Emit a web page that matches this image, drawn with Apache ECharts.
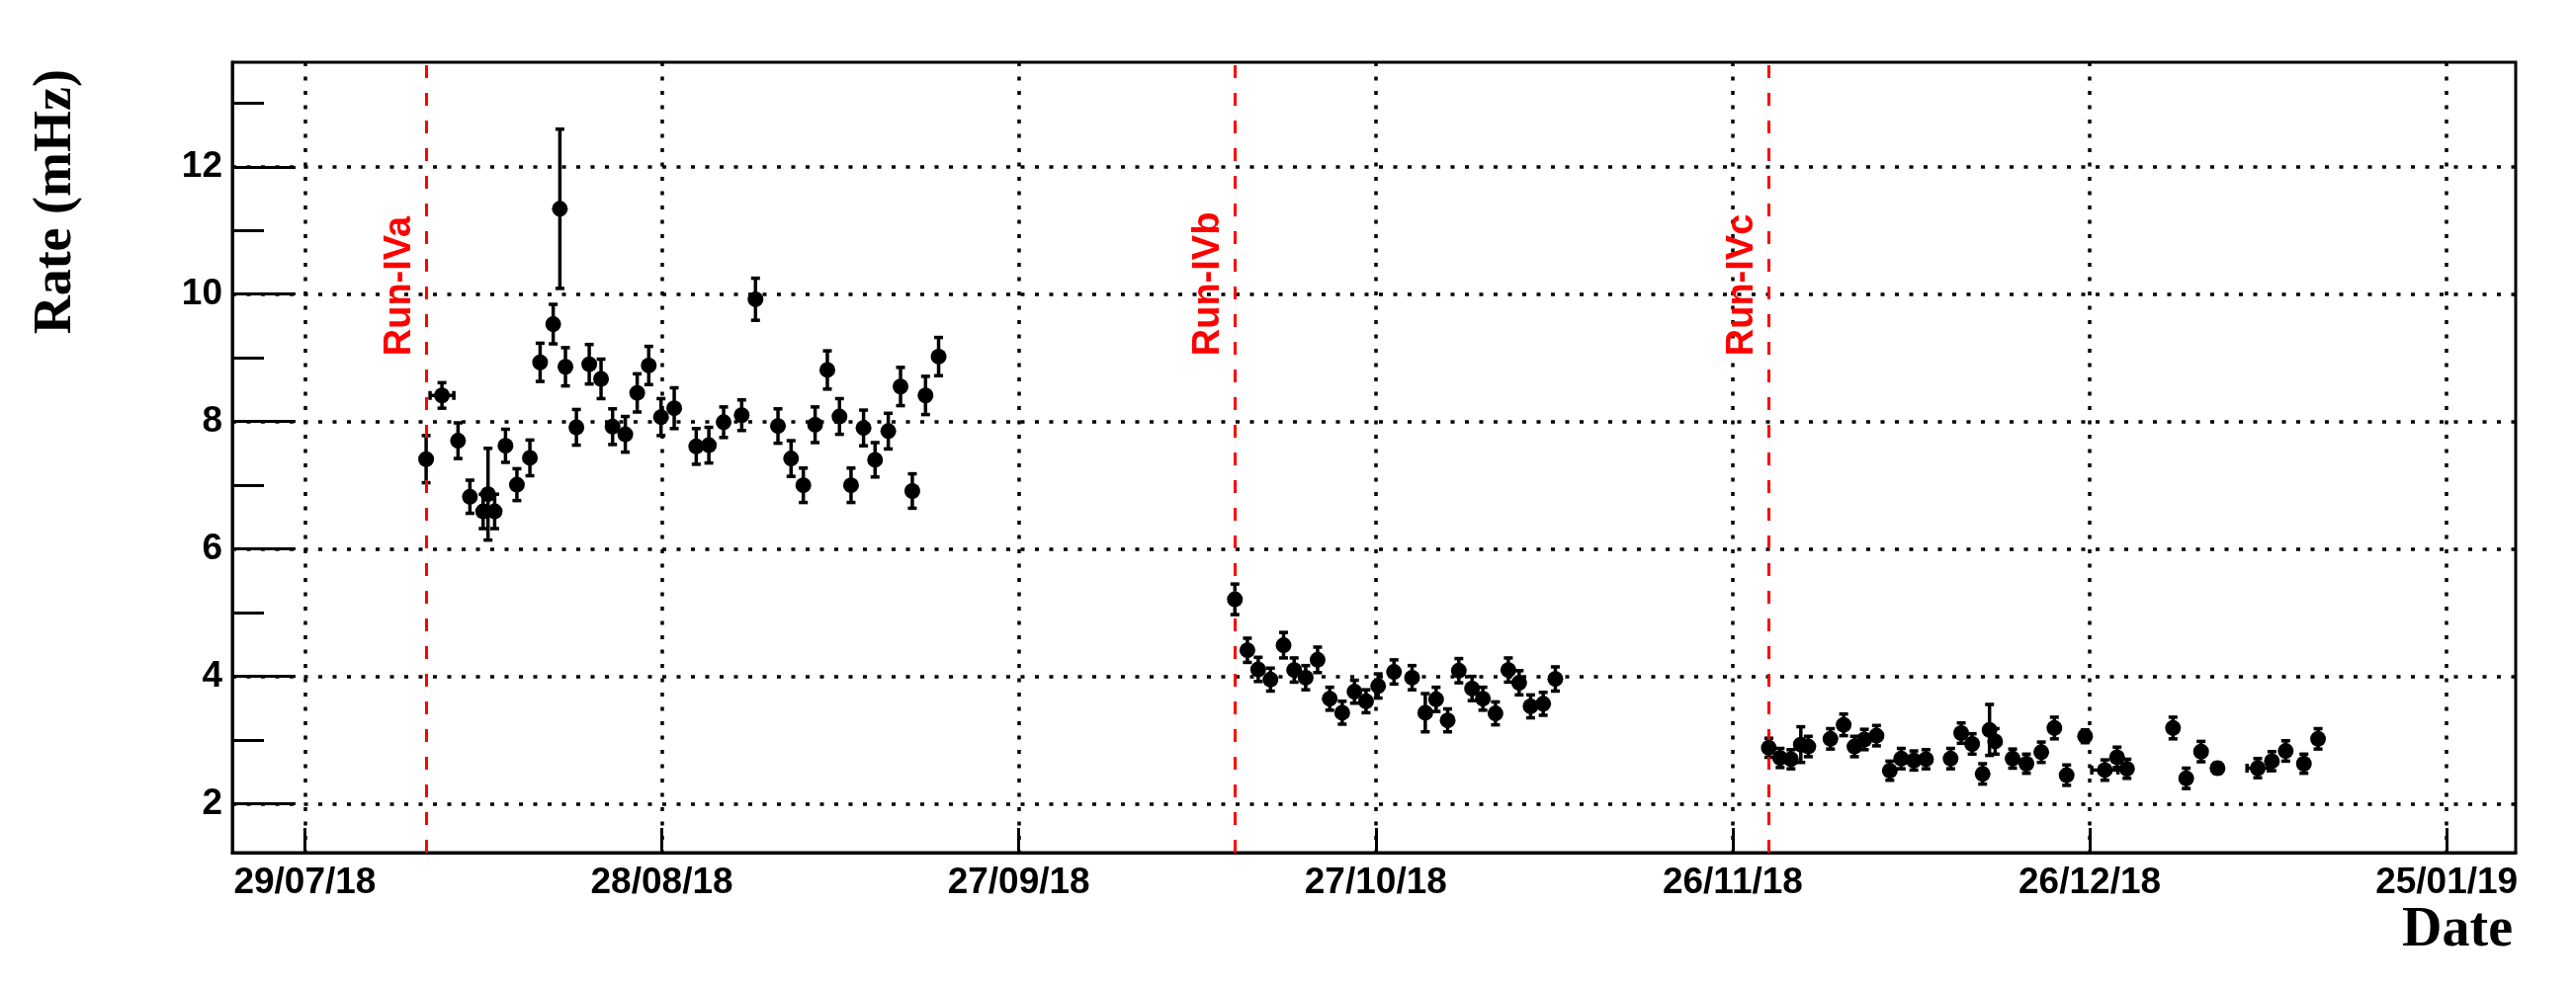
<!DOCTYPE html>
<html>
<head>
<meta charset="utf-8">
<script src="https://cdn.jsdelivr.net/npm/echarts@6.0.0/dist/echarts.min.js"></script>
<style>
  html, body { margin: 0; padding: 0; background: #fff; }
  #chart { width: 2606px; height: 999px; }
</style>
</head>
<body>
<div id="chart"></div>
<script>
// days counted from 29/07/18
var xMin = -6.1, xMax = 185.8;
var yMin = 1.234, yMax = 13.64;
var xTickDays = [0, 30, 60, 90, 120, 150, 180];
var xTickLabels = ['29/07/18', '28/08/18', '27/09/18', '27/10/18', '26/11/18', '26/12/18', '25/01/19'];
var yMajor = [2, 4, 6, 8, 10, 12];
var yMinor = [3, 5, 7, 9, 11, 13];

// run starts
var runDays = [10.19, 78.16, 123.03];
var runNames = ['Run-IVa', 'Run-IVb', 'Run-IVc'];
var runLabelY = 9.03;

// measured rate per period
var days = [
  10.19, 11.52, 12.87, 13.87, 14.98, 15.39, 15.95, 16.86, 17.82, 18.91,
  19.77, 20.87, 21.43, 21.90, 22.82, 23.90, 24.89, 25.86, 26.93, 27.93,
  28.90, 29.93, 31.04, 32.89, 33.95, 35.19, 36.71, 37.87, 39.76, 40.86,
  41.89, 42.88, 43.91, 44.93, 45.90, 46.95, 47.92, 49.03, 50.06, 51.05,
  52.16, 53.26,
  78.16, 79.21, 80.12, 81.15, 82.25, 83.14, 84.11, 85.11, 86.13, 87.18,
  88.21, 89.18, 90.20, 91.53, 93.05, 94.16, 95.07, 96.04, 96.98, 98.09,
  99.00, 100.06, 101.14, 102.05, 103.01, 104.07, 105.09,
  123.03, 123.98, 124.89, 125.72, 126.35, 128.21, 129.32, 130.23, 131.06, 132.08,
  133.20, 134.16, 135.22, 136.24, 138.31, 139.20, 140.12, 141.00, 141.58, 142.05,
  143.52, 144.68, 145.93, 147.03, 148.06, 149.61, 151.27, 152.30, 153.13, 157.00,
  158.11, 159.36, 160.74, 164.12, 165.31, 166.47, 168.00, 169.19
];
var rates = [
  7.41, 8.41, 7.70, 6.82, 6.59, 6.86, 6.59, 7.62, 7.01, 7.43,
  8.93, 9.53, 11.34, 8.86, 7.91, 8.90, 8.67, 7.92, 7.80, 8.45,
  8.88, 8.07, 8.21, 7.61, 7.63, 7.99, 8.10, 9.92, 7.93, 7.42,
  7.00, 7.95, 8.81, 8.08, 7.00, 7.90, 7.40, 7.85, 8.55, 6.91,
  8.41, 9.02,
  5.21, 4.41, 4.11, 3.95, 4.49, 4.10, 3.98, 4.26, 3.65, 3.43,
  3.76, 3.61, 3.85, 4.07, 3.98, 3.43, 3.64, 3.31, 4.09, 3.81,
  3.65, 3.42, 4.10, 3.90, 3.53, 3.57, 3.96,
  2.88, 2.72, 2.70, 2.93, 2.90, 3.02, 3.24, 2.90, 3.01, 3.07,
  2.52, 2.71, 2.68, 2.70, 2.71, 3.11, 2.94, 2.47, 3.16, 2.98,
  2.71, 2.63, 2.81, 3.19, 2.45, 3.06, 2.53, 2.73, 2.55, 3.19,
  2.40, 2.82, 2.56, 2.56, 2.67, 2.83, 2.63, 3.02
];
var rateErr = [
  0.37, 0.20, 0.28, 0.26, 0.27, 0.72, 0.27, 0.26, 0.25, 0.28,
  0.30, 0.31, 1.25, 0.30, 0.28, 0.31, 0.31, 0.28, 0.28, 0.30,
  0.30, 0.29, 0.32, 0.28, 0.28, 0.24, 0.24, 0.33, 0.27, 0.28,
  0.27, 0.28, 0.30, 0.28, 0.27, 0.28, 0.27, 0.28, 0.30, 0.27,
  0.30, 0.30,
  0.24, 0.19, 0.19, 0.18, 0.20, 0.19, 0.19, 0.20, 0.18, 0.18,
  0.18, 0.18, 0.19, 0.19, 0.19, 0.30, 0.19, 0.18, 0.19, 0.19,
  0.18, 0.18, 0.19, 0.19, 0.18, 0.18, 0.19,
  0.15, 0.15, 0.15, 0.28, 0.16, 0.16, 0.17, 0.16, 0.16, 0.16,
  0.15, 0.16, 0.15, 0.15, 0.16, 0.16, 0.16, 0.16, 0.40, 0.20,
  0.15, 0.15, 0.16, 0.17, 0.16, 0.10, 0.16, 0.16, 0.15, 0.17,
  0.16, 0.16, 0.08, 0.15, 0.15, 0.16, 0.15, 0.16
];
// horizontal error (days), only a few periods show one
var dayErr = {1: 1.0, 95: 1.1, 102: 0.9};

var errData = days.map(function (d, i) {
  return [d, rates[i], rateErr[i], dayErr[i] || 0];
});
var pointData = days.map(function (d, i) { return [d, rates[i]]; });
var runData = runDays.map(function (d) { return [d, runLabelY]; });

var dotted = { color: '#000', width: 3.5, type: [4, 10.5] };
var black = { color: '#000', width: 3 };
var tickFont = '"Liberation Sans", Arial, sans-serif';

function renderErr(params, api) {
  var x = api.value(0), y = api.value(1), e = api.value(2), ex = api.value(3);
  var lo = api.coord([x, y - e]);
  var hi = api.coord([x, y + e]);
  var st = { stroke: '#000', lineWidth: 3.5 };
  var cap = 4.5;
  var kids = [
    { type: 'line', shape: { x1: lo[0], y1: lo[1], x2: hi[0], y2: hi[1] }, style: st },
    { type: 'line', shape: { x1: lo[0] - cap, y1: lo[1], x2: lo[0] + cap, y2: lo[1] }, style: st },
    { type: 'line', shape: { x1: hi[0] - cap, y1: hi[1], x2: hi[0] + cap, y2: hi[1] }, style: st }
  ];
  if (ex > 0) {
    var l = api.coord([x - ex, y]);
    var r = api.coord([x + ex, y]);
    kids.push({ type: 'line', shape: { x1: l[0], y1: l[1], x2: r[0], y2: r[1] }, style: st });
    kids.push({ type: 'line', shape: { x1: l[0], y1: l[1] - cap, x2: l[0], y2: l[1] + cap }, style: st });
    kids.push({ type: 'line', shape: { x1: r[0], y1: r[1] - cap, x2: r[0], y2: r[1] + cap }, style: st });
  }
  return { type: 'group', children: kids };
}

function renderRunLabel(params, api) {
  var pt = api.coord([api.value(0), api.value(1)]);
  return {
    type: 'text',
    x: pt[0] - 27,
    y: pt[1],
    rotation: Math.PI / 2,
    style: {
      text: runNames[params.dataIndex],
      fill: '#ff0000',
      font: 'bold 38px "Liberation Sans", Arial, sans-serif',
      align: 'left', verticalAlign: 'middle',
      textAlign: 'left', textVerticalAlign: 'middle'
    }
  };
}

var chart = echarts.init(document.getElementById('chart'));
var option = {
  animation: false,
  backgroundColor: '#fff',
  grid: {
    left: 235, right: 61, top: 63, bottom: 136,
    show: true, borderColor: '#000', borderWidth: 3
  },
  xAxis: {
    type: 'value', min: xMin, max: xMax,
    axisLine: { show: true, onZero: false, lineStyle: black },
    axisTick: { show: true, inside: true, length: 25, customValues: xTickDays, lineStyle: black },
    axisLabel: {
      customValues: xTickDays, margin: 12, color: '#000', fontSize: 37,
      fontWeight: 'bold', fontFamily: tickFont,
      formatter: function (v) { return xTickLabels[xTickDays.indexOf(v)]; }
    },
    splitLine: { show: true, lineStyle: dotted }
  },
  yAxis: [{
    type: 'value', min: yMin, max: yMax,
    axisLine: { show: true, onZero: false, lineStyle: black },
    axisTick: { show: true, inside: true, length: 64, customValues: yMajor, lineStyle: black },
    axisLabel: {
      customValues: yMajor, margin: 10, color: '#000', fontSize: 37,
      fontWeight: 'bold', fontFamily: tickFont
    },
    splitLine: { show: true, lineStyle: dotted }
  }, {
    type: 'value', min: yMin, max: yMax, position: 'left', offset: 0,
    axisLine: { show: false, onZero: false },
    axisTick: { show: true, inside: true, length: 32, customValues: yMinor, lineStyle: black },
    axisLabel: { show: false },
    splitLine: { show: false }
  }],
  graphic: [{
    type: 'text', x: 57, y: 70, rotation: Math.PI / 2,
    style: {
      text: 'Rate (mHz)', fill: '#000',
      font: 'bold 54px "Liberation Serif", "Times New Roman", serif',
      align: 'right', verticalAlign: 'middle',
      textAlign: 'right', textVerticalAlign: 'middle'
    }
  }, {
    type: 'text', x: 2542, y: 943,
    style: {
      text: 'Date', fill: '#000',
      font: 'bold 56px "Liberation Serif", "Times New Roman", serif',
      align: 'right', verticalAlign: 'middle',
      textAlign: 'right', textVerticalAlign: 'middle'
    }
  }],
  series: [{
    name: 'runs', type: 'custom', data: runData, renderItem: renderRunLabel,
    silent: true, z: 3,
    markLine: {
      silent: true, symbol: ['none', 'none'],
      label: { show: false },
      lineStyle: { color: '#ff0000', width: 3, type: [13, 15] },
      data: runDays.map(function (d) { return { xAxis: d }; })
    }
  }, {
    name: 'err', type: 'custom', data: errData, renderItem: renderErr, silent: true, z: 4
  }, {
    name: 'rate', type: 'scatter', data: pointData, symbol: 'circle', symbolSize: 16,
    itemStyle: { color: '#000', opacity: 1 }, silent: true, z: 5
  }]
};
chart.setOption(option);
</script>
</body>
</html>
